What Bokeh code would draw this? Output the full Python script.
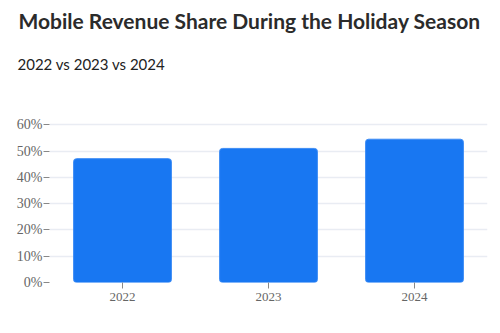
from bokeh.plotting import figure
from bokeh.models import Title, PrintfTickFormatter, FixedTicker
from bokeh.embed import file_html
from bokeh.resources import INLINE

years = ["2022", "2023", "2024"]
mobile_share = [47.1, 51.0, 54.5]
y_ticks = [0, 10, 20, 30, 40, 50, 60]

p = figure(x_range=years, y_range=(0, 62), width=500, height=333,
           output_backend="svg", toolbar_location=None,
           min_border_left=49, min_border_right=13, min_border_bottom=51,
           min_border_top=0)

p.title.text = "Mobile Revenue Share During the Holiday Season"
p.title.text_font = "Lato"
p.title.text_font_size = "21px"
p.title.text_font_style = "bold"
p.title.text_color = "#2b2b2b"
p.title.align = "left"
p.title.offset = -31
p.title.standoff = 10

spacer = Title(text=" ", text_font="Lato", text_font_size="24px", standoff=1)
p.add_layout(spacer, "above")

sub = Title(text="2022 vs 2023 vs 2024",
            text_font="Lato", text_font_size="15px", text_font_style="normal",
            text_color="#222222", align="left", offset=-32, standoff=30)
p.add_layout(sub, "above")

p.vbar(x=years, top=mobile_share, width=0.67, color="#1877F2",
       line_color="#3d8cf5", line_width=1, border_radius=3)

p.outline_line_color = None
p.background_fill_color = "white"
p.border_fill_color = "white"

p.xgrid.grid_line_color = None
p.ygrid.grid_line_color = "#e9ecf3"
p.ygrid.grid_line_width = 1.5

p.yaxis.ticker = FixedTicker(ticks=y_ticks)
p.yaxis.formatter = PrintfTickFormatter(format="%d%%")
for ax in (p.xaxis[0], p.yaxis[0]):
    ax.axis_line_color = None
    ax.major_tick_line_color = "#888888"
    ax.major_tick_in = 0
    ax.major_tick_out = 6
    ax.minor_tick_line_color = None
    ax.major_label_text_font = "Liberation Serif"
    ax.major_label_text_color = "#666666"
    ax.major_label_standoff = 1
p.yaxis.major_label_text_font_size = "14px"
p.xaxis.major_label_text_font_size = "13px"
p.xaxis.major_label_standoff = 4

open("out.html", "w").write(file_html(p, INLINE))
